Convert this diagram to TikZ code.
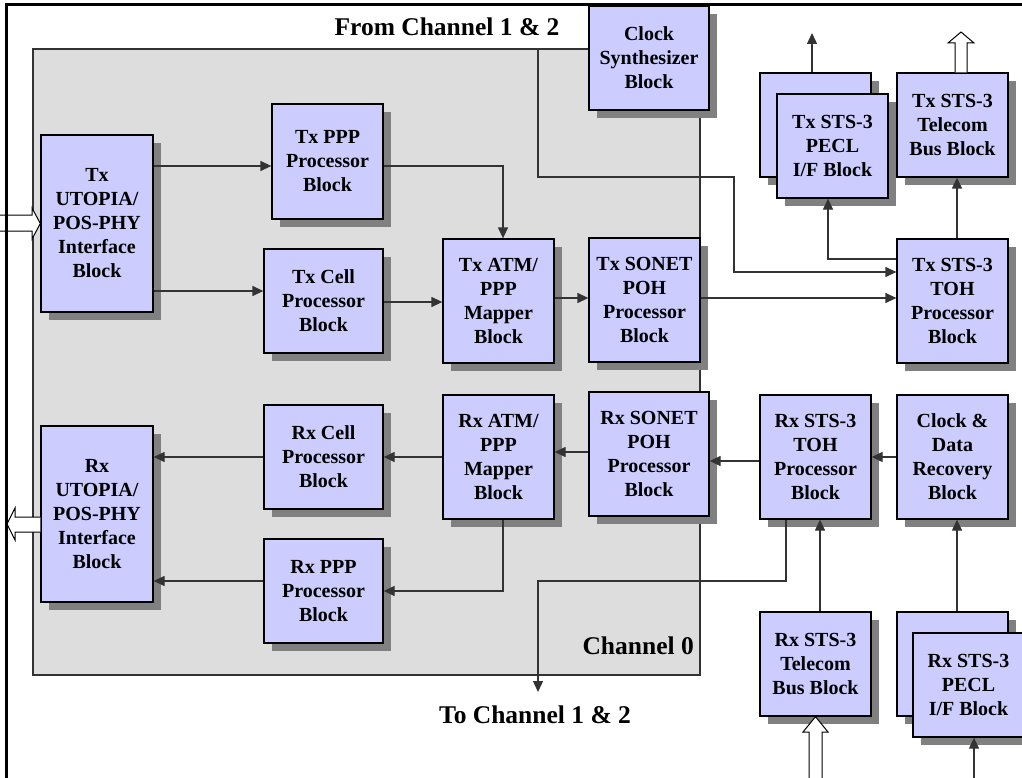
\documentclass[tikz,border=0pt]{standalone}
\usepackage{fontspec}
\setmainfont{Liberation Serif}
\usetikzlibrary{arrows.meta,shadows}
\definecolor{lav}{RGB}{204,204,255}
\definecolor{shd}{RGB}{128,128,128}
\definecolor{chan}{RGB}{221,221,221}
\definecolor{chanline}{RGB}{50,50,50}
\begin{document}
\begin{tikzpicture}[x=1pt,y=-1pt,
  blk/.style={draw=black, line width=1.3pt, fill=lav, inner sep=0pt, align=center,
    font=\fontsize{20}{24}\selectfont\bfseries,
    general shadow={fill=shd, draw=none, shadow xshift=8pt, shadow yshift=-8pt}},
  chanbox/.style={draw=chanline, line width=1.3pt, fill=chan, inner sep=0pt},
  conn/.style={line width=1.3pt, draw=black!80},
  arr/.style={conn, -{Triangle[length=11pt,width=10pt]}},
  hollow/.style={draw=black, line width=1pt, fill=white},
  lbl/.style={font=\fontsize{25.5}{30}\selectfont\bfseries, inner sep=0pt}]
\useasboundingbox (0,0) rectangle (1022,778);
\fill[white] (0,0) rectangle (1022,778);

% channel 0 area
\node[chanbox, minimum width=667pt, minimum height=626pt] (ch0) at (366.5,362) {};

% labels
\node[lbl] (from) at (447,27) {From Channel 1 \& 2};
\node[lbl, anchor=east] (ch0lbl) at (694,645.5) {Channel 0};
\node[lbl] (to) at (535,715) {To Channel 1 \& 2};

% Tx blocks
\node[blk, minimum width=112pt, minimum height=177pt] (txu) at (97,223.5) {Tx\\UTOPIA/\\POS-PHY\\Interface\\Block};
\node[blk, minimum width=111pt, minimum height=115pt] (txppp) at (327.5,161.5) {Tx PPP\\Processor\\Block};
\node[blk, minimum width=119pt, minimum height=104pt] (txcell) at (323.5,301) {Tx Cell\\Processor\\Block};
\node[blk, minimum width=111pt, minimum height=124pt] (txatm) at (498.5,301) {Tx ATM/\\PPP\\Mapper\\Block};
\node[blk, minimum width=111pt, minimum height=124pt] (txsonet) at (644.5,300) {Tx SONET\\POH\\Processor\\Block};
\node[blk, minimum width=120pt, minimum height=104pt] (clksyn) at (649,58) {Clock\\Synthesizer\\Block};
\node[blk, minimum width=111pt, minimum height=104pt] (txpeclb) at (815.5,125) {};
\node[blk, minimum width=111pt, minimum height=104pt] (txpecl) at (832.5,146) {Tx STS-3\\PECL\\I/F Block};
\node[blk, minimum width=111pt, minimum height=104pt] (txtel) at (952.5,125) {Tx STS-3\\Telecom\\Bus Block};
\node[blk, minimum width=111pt, minimum height=124pt] (txtoh) at (952.5,301) {Tx STS-3\\TOH\\Processor\\Block};

% Rx blocks
\node[blk, minimum width=112pt, minimum height=176pt] (rxu) at (97,514) {Rx\\UTOPIA/\\POS-PHY\\Interface\\Block};
\node[blk, minimum width=119pt, minimum height=104pt] (rxcell) at (323.5,457) {Rx Cell\\Processor\\Block};
\node[blk, minimum width=119pt, minimum height=104pt] (rxppp) at (323.5,591) {Rx PPP\\Processor\\Block};
\node[blk, minimum width=111pt, minimum height=124pt] (rxatm) at (498.5,457) {Rx ATM/\\PPP\\Mapper\\Block};
\node[blk, minimum width=120pt, minimum height=124pt] (rxsonet) at (649,454) {Rx SONET\\POH\\Processor\\Block};
\node[blk, minimum width=111pt, minimum height=124pt] (rxtoh) at (815.5,457) {Rx STS-3\\TOH\\Processor\\Block};
\node[blk, minimum width=111pt, minimum height=124pt] (cdr) at (952.5,457) {Clock \&\\Data\\Recovery\\Block};
\node[blk, minimum width=111pt, minimum height=104pt] (rxtel) at (815.5,664) {Rx STS-3\\Telecom\\Bus Block};
\node[blk, minimum width=111pt, minimum height=104pt] (rxpeclb) at (952.5,664) {};
\node[blk, minimum width=111pt, minimum height=104pt] (rxpecl) at (968.5,685) {Rx STS-3\\PECL\\I/F Block};

% free ends
\coordinate (txout) at (812,33);
\coordinate (tochan) at (538,692);
\coordinate (rxin) at (974,790);

% Tx connectors
\draw[arr] (txu.east |- 0,166) -- (txppp.west |- 0,166);
\draw[arr] (txu.east |- 0,291) -- (txcell.west |- 0,291);
\draw[arr] (txppp.east |- 0,166) -| (503,0 |- txatm.north);
\draw[arr] (txcell.east |- 0,302) -- (txatm.west |- 0,302);
\draw[arr] (txatm.east |- 0,298) -- (txsonet.west |- 0,298);
\draw[arr] (txsonet.east |- 0,298) -- (txtoh.west |- 0,298);
\draw[arr] (538,0 |- ch0.north) -- (538,177) -| (734,272) -- (txtoh.west |- 0,272);
\draw[arr] (txtoh.west |- 0,259) -| (828,0 |- txpecl.south);
\draw[arr] (957,0 |- txtoh.north) -- (957,0 |- txtel.south);
\draw[arr] (812,0 |- txpeclb.north) -- (txout);

% Rx connectors
\draw[arr] (rxcell.west |- 0,457) -- (rxu.east |- 0,457);
\draw[arr] (rxatm.west |- 0,457) -- (rxcell.east |- 0,457);
\draw[arr] (rxppp.west |- 0,581) -- (rxu.east |- 0,581);
\draw[arr] (503,0 |- rxatm.south) |- (rxppp.east |- 0,591);
\draw[arr] (rxsonet.west |- 0,452) -- (rxatm.east |- 0,452);
\draw[arr] (rxtoh.west |- 0,461) -- (rxsonet.east |- 0,461);
\draw[arr] (cdr.west |- 0,457) -- (rxtoh.east |- 0,457);
\draw[arr] (786,0 |- rxtoh.south) |- (538,581) -- (tochan);
\draw[arr] (820,0 |- rxtel.north) -- (820,0 |- rxtoh.south);
\draw[arr] (957,0 |- rxpeclb.north) -- (957,0 |- cdr.south);
\draw[arr] (rxin) -- (974,0 |- rxpecl.south);

% hollow bus arrows
\draw[hollow] (0,215) -- (32,215) -- (32,208) -- (txu.west |- 0,223.5) -- (32,239) -- (32,231) -- (0,231);
\draw[hollow] (rxu.west |- 0,517) -- (15,517) -- (15,508) -- (7,524) -- (15,540) -- (15,532) -- (rxu.west |- 0,532);
\draw[hollow] (955,0 |- txtel.north) -- (955,43) -- (948,43) -- (961,32) -- (974,43) -- (967,43) -- (967,0 |- txtel.north);
\draw[hollow] (809,790) -- (809,732) -- (803,732) -- (815.5,0 |- rxtel.south) -- (828,732) -- (822,732) -- (822,790);

% outer frame
\draw[line width=3pt, line cap=rect] (6,790) -- (6,5) -- (1030,5);
\end{tikzpicture}
\end{document}
